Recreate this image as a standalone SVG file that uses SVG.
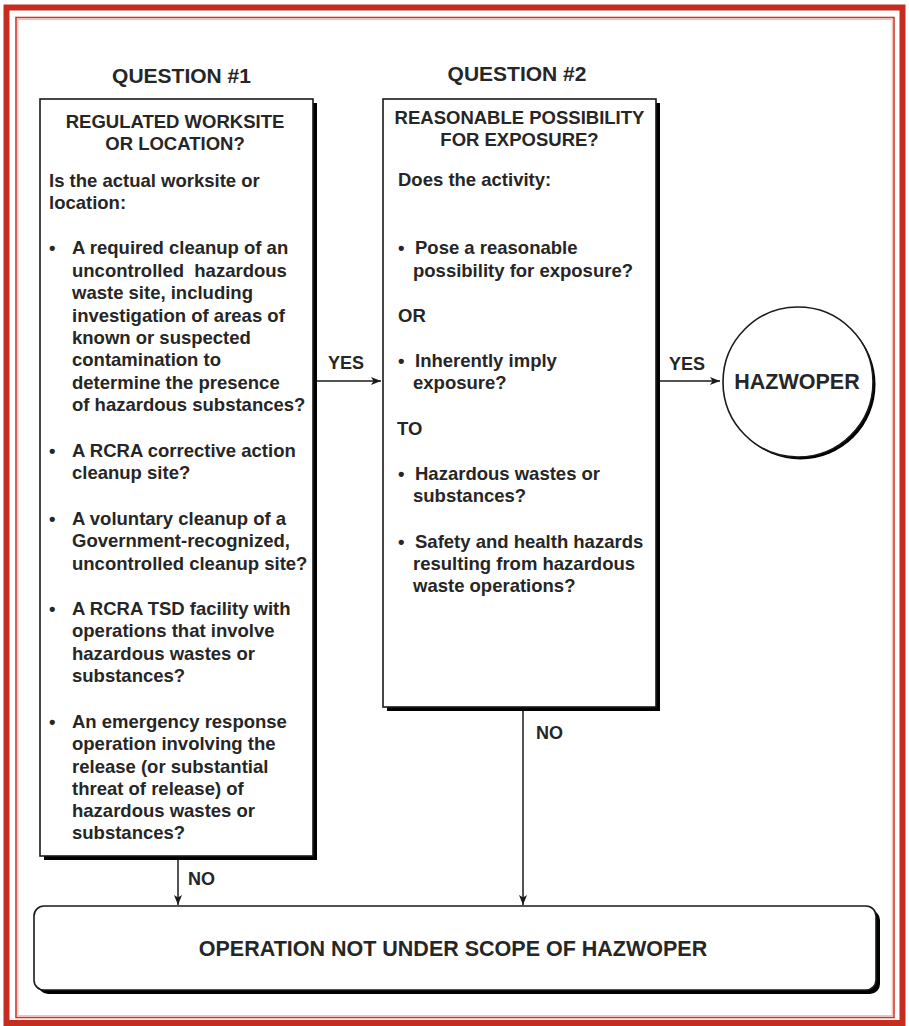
<svg xmlns="http://www.w3.org/2000/svg" width="909" height="1026" viewBox="0 0 909 1026">
<defs>
<style>
text{font-family:"Liberation Sans",Arial,sans-serif;font-weight:bold;fill:#262626;}
.h{font-size:21px;text-anchor:middle;}
.t{font-size:18.5px;}
.c{text-anchor:middle;}
.lbl{font-size:18px;}
.box{fill:#fff;stroke:#1a1a1a;stroke-width:1.6;}
.sh{fill:#000;}
.conn{stroke:#1a1a1a;stroke-width:1.5;fill:none;marker-end:url(#ah);}
</style>
<marker id="ah" viewBox="0 0 10 8" refX="10" refY="4" markerWidth="10" markerHeight="8" markerUnits="userSpaceOnUse" orient="auto">
<path d="M0,0 L10,4 L0,8 L2.5,4 Z" fill="#1a1a1a"/>
</marker>
</defs>
<rect x="0" y="0" width="909" height="1026" fill="#fff"/>
<rect x="6.5" y="7.5" width="896" height="1015.5" fill="none" stroke="#c62d1f" stroke-width="6"/>
<rect x="16" y="17.5" width="878" height="1000" fill="none" stroke="#d0392a" stroke-width="1.6"/>
<rect x="17.8" y="19.3" width="874.4" height="996.4" fill="none" stroke="#f0b0a8" stroke-width="1"/>

<text class="h" x="181.5" y="83">QUESTION #1</text>
<text class="h" x="517" y="81">QUESTION #2</text>

<g id="q1">
<rect class="sh" x="44" y="103" width="273" height="757"/>
<rect class="box" x="40" y="99" width="273" height="757"/>
<text class="t c" x="175" y="128">REGULATED WORKSITE</text>
<text class="t c" x="175" y="150">OR LOCATION?</text>
<text class="t" x="49" y="187">Is the actual worksite or</text>
<text class="t" x="49" y="209">location:</text>
<text class="t" x="49" y="254">•</text>
<text class="t" x="72" y="254">A required cleanup of an</text>
<text class="t" x="72" y="276.5" xml:space="preserve">uncontrolled  hazardous</text>
<text class="t" x="72" y="299">waste site, including</text>
<text class="t" x="72" y="321.5">investigation of areas of</text>
<text class="t" x="72" y="344">known or suspected</text>
<text class="t" x="72" y="366">contamination to</text>
<text class="t" x="72" y="388.5">determine the presence</text>
<text class="t" x="72" y="411">of hazardous substances?</text>
<text class="t" x="49" y="457">•</text>
<text class="t" x="72" y="457">A RCRA corrective action</text>
<text class="t" x="72" y="479">cleanup site?</text>
<text class="t" x="49" y="525">•</text>
<text class="t" x="72" y="525">A voluntary cleanup of a</text>
<text class="t" x="72" y="547">Government-recognized,</text>
<text class="t" x="72" y="570">uncontrolled cleanup site?</text>
<text class="t" x="49" y="615">•</text>
<text class="t" x="72" y="615">A RCRA TSD facility with</text>
<text class="t" x="72" y="637">operations that involve</text>
<text class="t" x="72" y="660">hazardous wastes or</text>
<text class="t" x="72" y="682">substances?</text>
<text class="t" x="49" y="728">•</text>
<text class="t" x="72" y="728">An emergency response</text>
<text class="t" x="72" y="750">operation involving the</text>
<text class="t" x="72" y="773">release (or substantial</text>
<text class="t" x="72" y="795">threat of release) of</text>
<text class="t" x="72" y="817">hazardous wastes or</text>
<text class="t" x="72" y="839">substances?</text>
</g>

<g id="q2">
<rect class="sh" x="387" y="103" width="273" height="608"/>
<rect class="box" x="383" y="99" width="273" height="608"/>
<text class="t c" x="519.5" y="124">REASONABLE POSSIBILITY</text>
<text class="t c" x="519.5" y="146">FOR EXPOSURE?</text>
<text class="t" x="398" y="186">Does the activity:</text>
<text class="t" x="398" y="254">•</text>
<text class="t" x="415" y="254">Pose a reasonable</text>
<text class="t" x="413" y="276.5">possibility for exposure?</text>
<text class="t" x="398" y="322">OR</text>
<text class="t" x="398" y="367">•</text>
<text class="t" x="415" y="367">Inherently imply</text>
<text class="t" x="413" y="389">exposure?</text>
<text class="t" x="397" y="435">TO</text>
<text class="t" x="398" y="480">•</text>
<text class="t" x="415" y="480">Hazardous wastes or</text>
<text class="t" x="413" y="502">substances?</text>
<text class="t" x="398" y="548">•</text>
<text class="t" x="415" y="548">Safety and health hazards</text>
<text class="t" x="413" y="570">resulting from hazardous</text>
<text class="t" x="413" y="592">waste operations?</text>
</g>

<g id="hazwoper">
<circle class="sh" cx="800.5" cy="384.5" r="75"/>
<circle class="box" cx="798" cy="382" r="75"/>
<text class="c" x="797" y="389" style="font-size:21.5px">HAZWOPER</text>
</g>

<g id="notscope">
<rect class="sh" x="38" y="910" width="842" height="84" rx="10"/>
<rect class="box" x="34" y="906" width="842" height="84" rx="10"/>
<text class="c" x="453" y="956" style="font-size:21.5px">OPERATION NOT UNDER SCOPE OF HAZWOPER</text>
</g>

<g id="connectors">
<line class="conn" x1="317" y1="381" x2="381" y2="381"/>
<line class="conn" x1="660" y1="381" x2="720" y2="381"/>
<line class="conn" x1="178" y1="860" x2="178" y2="905"/>
<line class="conn" x1="523" y1="711" x2="523" y2="905"/>
<text class="lbl" x="328" y="369">YES</text>
<text class="lbl" x="669" y="370">YES</text>
<text class="lbl" x="188" y="885">NO</text>
<text class="lbl" x="536" y="739">NO</text>
</g>
</svg>
